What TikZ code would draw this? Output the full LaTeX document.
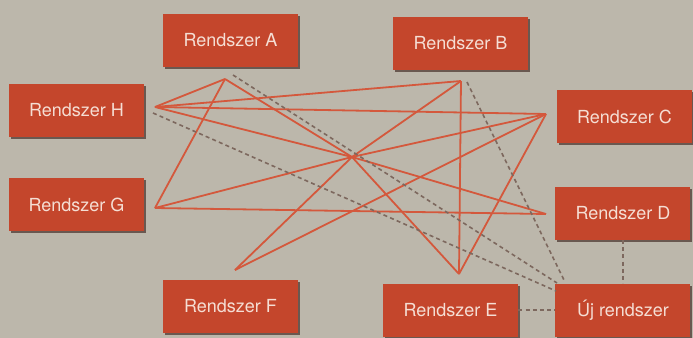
\documentclass[tikz,border=0pt]{standalone}
\usepackage{fontspec}
\setmainfont{TeX Gyre Heros}
\usetikzlibrary{shadows}

\definecolor{paper}{RGB}{188,183,171}
\definecolor{boxred}{RGB}{196,70,44}
\definecolor{boxtext}{RGB}{245,222,212}
\definecolor{shade}{RGB}{105,88,80}
\definecolor{linkred}{RGB}{212,88,60}
\definecolor{dashgray}{RGB}{125,104,94}

\begin{document}
\begin{tikzpicture}[x=0.5pt, y=-0.5pt,
    sysbox/.style={fill=boxred, text=boxtext, minimum width=67.5pt, minimum height=26.5pt,
      inner sep=0pt, font=\fontsize{9}{10}\selectfont,
      drop shadow={shadow xshift=1pt, shadow yshift=-1pt, fill=shade, opacity=1}},
    link/.style={draw=linkred, line width=0.9pt},
    newlink/.style={draw=dashgray, dashed, dash pattern=on 2pt off 1.6pt, line width=0.8pt}]
    % Background
    \fill[paper] (0,0) rectangle (693,338);
    \useasboundingbox (0,0) rectangle (693,338);

    % Systems
    \node[sysbox] (sysA) at (230.5,40) {Rendszer A};
    \node[sysbox] (sysB) at (460.5,43) {Rendszer B};
    \node[sysbox] (sysC) at (624.5,116.5) {Rendszer C};
    \node[sysbox] (sysD) at (623,213) {Rendszer D};
    \node[sysbox] (sysE) at (450.5,310) {Rendszer E};
    \node[sysbox] (sysF) at (230.5,306.5) {Rendszer F};
    \node[sysbox] (sysG) at (76.5,204.5) {Rendszer G};
    \node[sysbox] (sysH) at (76.5,110) {Rendszer H};
    \node[sysbox] (sysU) at (623,310) {Új rendszer};

    % Line ends next to the boxes
    \coordinate (hubA) at (225,79);
    \coordinate (hubB) at (461,81);
    \coordinate (hubC) at (546,114);
    \coordinate (hubD) at (546,214);
    \coordinate (hubE) at (459,274);
    \coordinate (hubF) at (235,270);
    \coordinate (hubG) at (155,208);
    \coordinate (hubH) at (155,107);
    \coordinate (mid) at (352,157);

    % Point-to-point links
    \foreach \s in {A,B,C,D,E,F,G,H}
        \draw[link] (hub\s) -- (mid);
    \draw[link] (hubH) -- (hubA);
    \draw[link] (hubH) -- (hubB);
    \draw[link] (hubH) -- (hubC);
    \draw[link] (hubA) -- (hubG);
    \draw[link] (hubB) -- (hubE);
    \draw[link] (hubC) -- (hubF);
    \draw[link] (hubC) -- (hubE);
    \draw[link] (hubG) -- (hubD);

    % New system links
    \coordinate (fromA) at (233,75);
    \coordinate (fromB) at (467,82);
    \coordinate (fromH) at (153,113);
    \coordinate (toA) at (557,283);
    \coordinate (toB) at (564,280);
    \coordinate (toH) at (556,291);
    \draw[newlink] (fromA) -- (toA);
    \draw[newlink] (fromB) -- (toB);
    \draw[newlink] (fromH) -- (toH);
    \draw[newlink] (sysD) -- (sysU);
    \draw[newlink] (sysE) -- (sysU);
\end{tikzpicture}
\end{document}
